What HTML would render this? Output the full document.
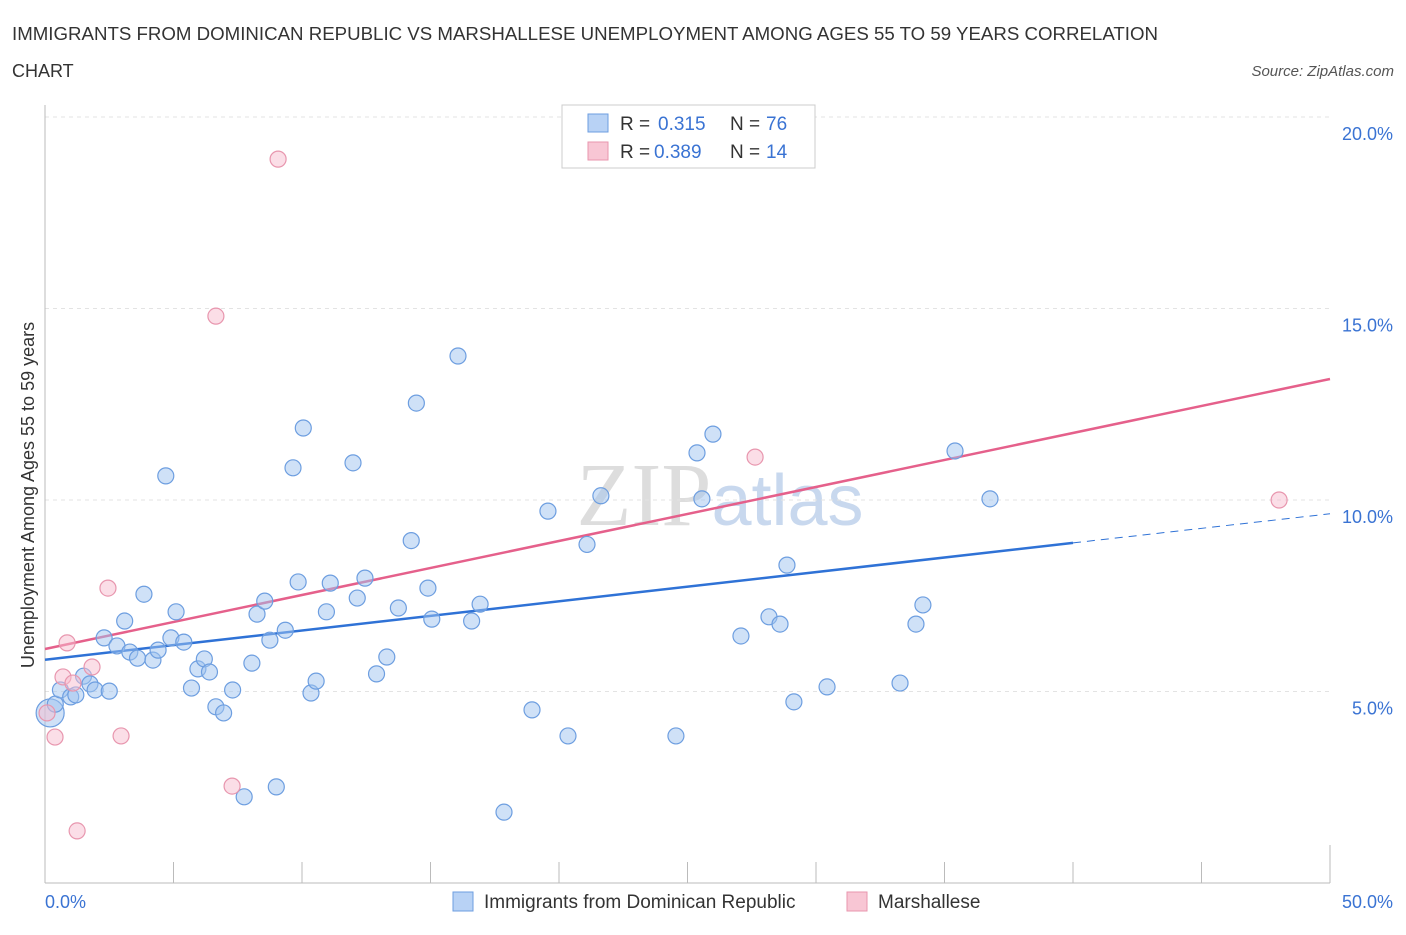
<!DOCTYPE html>
<html><head><meta charset="utf-8"><style>
body{margin:0;background:#fff;font-family:"Liberation Sans",sans-serif;}
</style></head><body>
<svg width="1406" height="930" xmlns="http://www.w3.org/2000/svg" font-family="Liberation Sans, sans-serif">
<text x="12" y="40" font-size="18" fill="#333" textLength="1146" lengthAdjust="spacingAndGlyphs">IMMIGRANTS FROM DOMINICAN REPUBLIC VS MARSHALLESE UNEMPLOYMENT AMONG AGES 55 TO 59 YEARS CORRELATION</text>
<text x="12" y="77" font-size="18" fill="#333">CHART</text>
<text x="1394" y="76" font-size="15" fill="#555" font-style="italic" text-anchor="end">Source: ZipAtlas.com</text>
<text x="720" y="525" font-size="90" fill="#ddd" text-anchor="middle" font-family="Liberation Serif, serif">ZIP<tspan fill="#c8d8ee" font-family="Liberation Sans, sans-serif" font-size="72">atlas</tspan></text>
<g id="grid"></g>
<g id="axes"></g>
<text transform="translate(34,495) rotate(-90)" font-size="18" fill="#333" text-anchor="middle">Unemployment Among Ages 55 to 59 years</text>
<g id="lines"></g>
<g id="pts"></g>
<g>
<rect x="562" y="105" width="253" height="63" fill="#fff" stroke="#ccc"/>
<rect x="588" y="114" width="20" height="18" fill="#b8d2f5" stroke="#6d9ee0"/>
<text x="620" y="130" font-size="19" fill="#333">R =</text>
<text x="658" y="130" font-size="19" fill="#3a73d3">0.315</text>
<text x="730" y="130" font-size="19" fill="#333">N =</text>
<text x="766" y="130" font-size="19" fill="#3a73d3">76</text>
<rect x="588" y="142" width="20" height="18" fill="#f8c6d4" stroke="#e896ae"/>
<text x="620" y="158" font-size="19" fill="#333">R =</text>
<text x="654" y="158" font-size="19" fill="#3a73d3">0.389</text>
<text x="730" y="158" font-size="19" fill="#333">N =</text>
<text x="766" y="158" font-size="19" fill="#3a73d3">14</text>
</g>
<rect x="453" y="892" width="20" height="19" fill="#b8d2f5" stroke="#6d9ee0"/>
<text x="484" y="908" font-size="19" fill="#333">Immigrants from Dominican Republic</text>
<rect x="847" y="892" width="20" height="19" fill="#f8c6d4" stroke="#e896ae"/>
<text x="878" y="908" font-size="19" fill="#333">Marshallese</text>
</svg>
<script>
const yTicks=[5,10,15,20];
const yTickLabels=["5.0%","10.0%","15.0%","20.0%"];
const xTickLabels=["0.0%","50.0%"];
const blueX=[0.2,0.4,0.6,1.0,1.2,1.5,1.75,1.95,2.5,2.3,2.8,3.1,3.3,3.6,3.85,4.2,4.4,4.7,4.9,5.1,5.4,5.7,5.95,6.2,6.4,6.65,6.95,7.3,7.75,8.05,8.25,8.55,8.75,9.0,9.35,9.65,9.85,10.05,10.35,10.55,10.95,11.1,11.985,12.15,12.45,12.9,13.3,13.75,14.25,14.45,14.9,15.05,16.07,16.6,16.93,17.86,18.95,19.57,20.35,21.09,21.63,24.55,25.37,25.56,25.99,27.08,28.17,28.6,28.87,29.14,30.43,33.27,33.89,34.16,35.41,36.77];
const blueY=[4.44,4.67,5.04,4.86,4.91,5.4,5.2,5.04,5.01,6.4,6.19,6.84,6.03,5.87,7.54,5.82,6.08,10.63,6.4,7.08,6.29,5.09,5.59,5.85,5.51,4.6,4.44,5.04,2.25,5.74,7.02,7.36,6.34,2.51,6.6,10.84,7.86,11.88,4.96,5.27,7.08,7.83,10.97,7.44,7.96,5.46,5.9,7.18,8.94,12.53,7.7,6.89,13.76,6.84,7.28,1.85,4.52,9.71,3.84,8.84,10.11,3.84,11.23,10.03,11.72,6.45,6.95,6.76,8.3,4.73,5.12,5.22,6.76,7.26,11.28,10.03];
const pinkX=[0.08,0.39,0.86,0.7,1.09,1.83,2.45,2.96,1.25,7.28,6.65,9.07,27.63,48.02];
const pinkY=[4.44,3.81,6.27,5.38,5.22,5.64,7.7,3.84,1.36,2.53,14.8,18.9,11.12,10.0];
const blueFit=[[0,5.83],[40,8.88],[50,9.64]];
const pinkFit=[[0,6.11],[50,13.16]];
const NS="http://www.w3.org/2000/svg";
const xs=v=>45+v*25.7, ys=v=>883-v*38.3;
function mk(tag,attrs,parent){const e=document.createElementNS(NS,tag);for(const k in attrs)e.setAttribute(k,attrs[k]);document.getElementById(parent).appendChild(e);return e;}
yTicks.forEach((t,i)=>{
 const g=mk('line',{x1:45,x2:1330,y1:ys(t),y2:ys(t),stroke:'#e3e3e3','stroke-dasharray':'4,4'},'grid');
 
 
 const l=mk('text',{x:1393,y:ys(t)+23,'font-size':18,fill:'#3a73d3','text-anchor':'end'},'grid');
 l.textContent=yTickLabels[i];
 
 
});
const ax=mk('line',{x1:45,x2:45,y1:105,y2:883,stroke:'#bbb'},'axes');


const bx=mk('line',{x1:45,x2:1330,y1:883,y2:883,stroke:'#bbb'},'axes');


for(let i=0;i<=10;i++){const t=mk('line',{x1:xs(i*5),x2:xs(i*5),y1:883,y2:(i==0||i==10)?845:862,stroke:'#bbb'},'axes');
 
 }
[[0,'start',45],[50,'end',1393]].forEach((d,i)=>{const l=mk('text',{x:d[2],y:908,'font-size':18,fill:'#3a73d3','text-anchor':d[1]},'axes');l.textContent=xTickLabels[i];
 
 });
let b1=mk('line',{x1:xs(blueFit[0][0]),y1:ys(blueFit[0][1]),x2:xs(blueFit[1][0]),y2:ys(blueFit[1][1]),stroke:'#2f72d6','stroke-width':2.5},'lines');


let b2=mk('line',{x1:xs(blueFit[1][0]),y1:ys(blueFit[1][1]),x2:xs(blueFit[2][0]),y2:ys(blueFit[2][1]),stroke:'#2f72d6','stroke-width':1,'stroke-dasharray':'8,6'},'lines');


let p1=mk('line',{x1:xs(pinkFit[0][0]),y1:ys(pinkFit[0][1]),x2:xs(pinkFit[1][0]),y2:ys(pinkFit[1][1]),stroke:'#e5608b','stroke-width':2.5},'lines');


blueX.forEach((x,i)=>{const c=mk('circle',{cx:xs(x),cy:ys(blueY[i]),r:i==0?14:8,fill:'rgba(160,195,240,0.5)',stroke:'#6d9ee0','stroke-width':1.2},'pts');
 
 });
pinkX.forEach((x,i)=>{const c=mk('circle',{cx:xs(x),cy:ys(pinkY[i]),r:8,fill:'rgba(248,190,208,0.5)',stroke:'#e896ae','stroke-width':1.2},'pts');
 
 });
</script>
</body></html>
